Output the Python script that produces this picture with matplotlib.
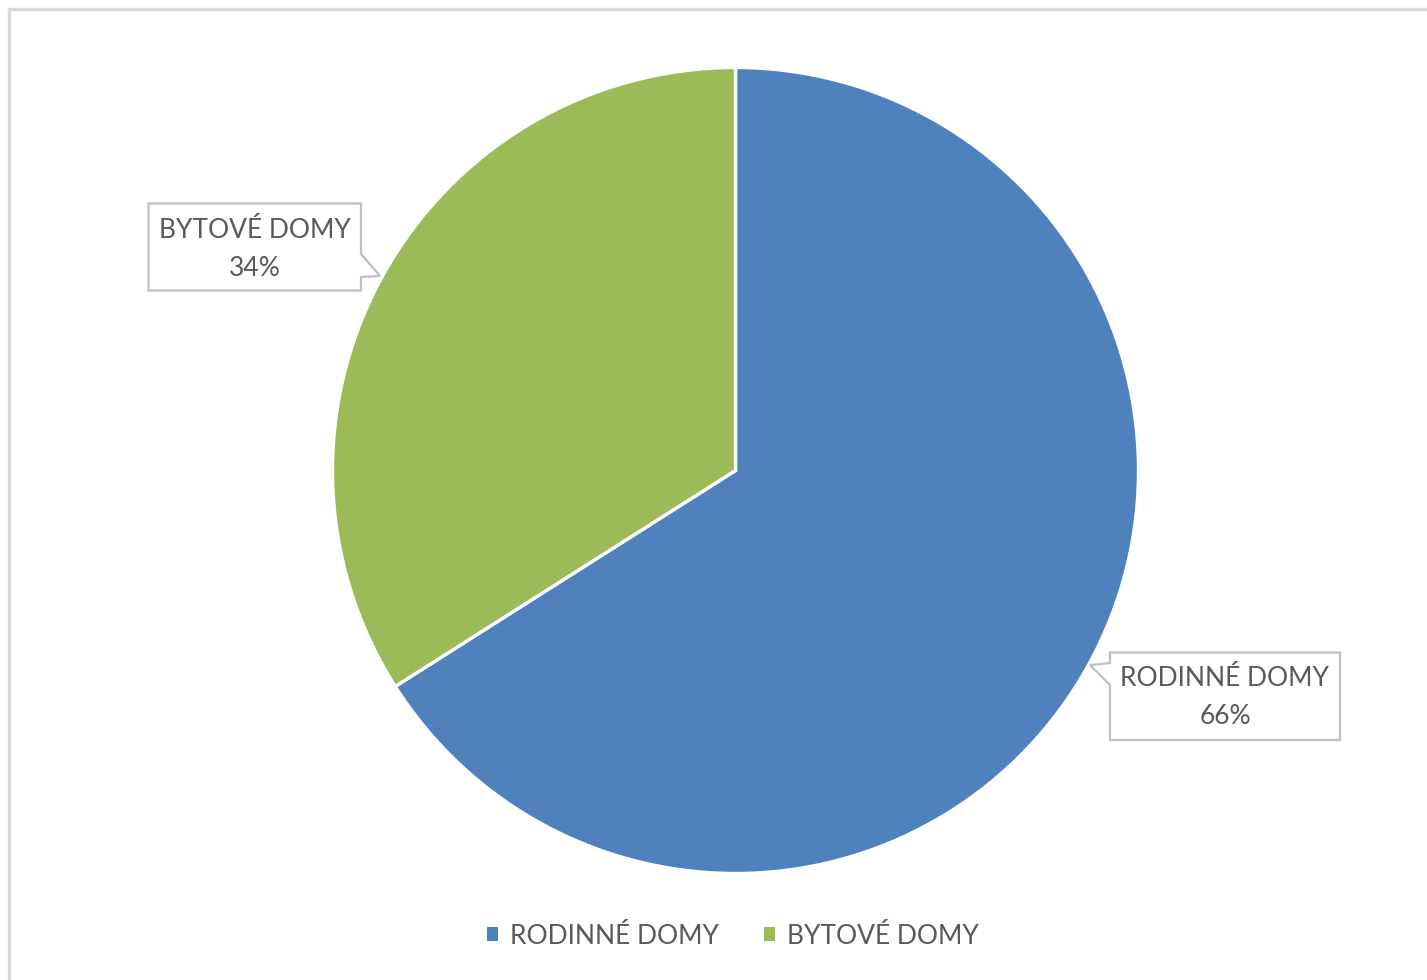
import matplotlib
matplotlib.use("Agg")
import matplotlib.pyplot as plt
from matplotlib.patches import Polygon
from matplotlib.lines import Line2D

categories = ["RODINNÉ DOMY", "BYTOVÉ DOMY"]
values = [66, 34]
colors = ["#4F81BD", "#9BBB59"]

W, H = 1427, 980
TXT = "#595959"
FONT = "Lato"

fig = plt.figure(figsize=(W / 100, H / 100), dpi=100)
fig.patch.set_facecolor("white")


def fx(x):
    return x / W


def fy(y):
    return 1 - y / H


# outer frame (top & left visible)
fig.add_artist(Line2D([fx(8.5), fx(W + 5)], [fy(9.5), fy(9.5)], color="#d9d9d9", lw=2.4))
fig.add_artist(Line2D([fx(8.5), fx(8.5)], [fy(9.5), fy(H + 5)], color="#d9d9d9", lw=2.4))

# pie axes
cx, cy, r = 735.5, 470.5, 403
ax = fig.add_axes([fx(cx - r), fy(cy + r), 2 * r / W, 2 * r / H])
wedges, _ = ax.pie(values, colors=colors, startangle=90, counterclock=False,
                   wedgeprops=dict(edgecolor="white", linewidth=2.4))
ax.set_xlim(-1, 1)
ax.set_ylim(-1, 1)
ax.set_aspect("auto")
ax.axis("off")

# callouts
callouts = {
    "BYTOVÉ DOMY": dict(box=[(148.5, 203.5), (361, 203.5), (361, 254), (380, 276), (361, 277),
                             (361, 290.5), (148.5, 290.5)], text=(255, 249)),
    "RODINNÉ DOMY": dict(box=[(1110, 652.5), (1340, 652.5), (1340, 740), (1110, 740), (1110, 685),
                              (1090, 665), (1110, 663)], text=(1225, 697)),
}
for cat, val in zip(categories, values):
    c = callouts[cat]
    pts = [(fx(x), fy(y)) for x, y in c["box"]]
    fig.add_artist(Polygon(pts, closed=True, facecolor="white", edgecolor="#bfbfbf",
                           lw=1.6, transform=fig.transFigure))
    tx, ty = c["text"]
    fig.text(fx(tx), fy(ty), f"{cat}\n{val}%", ha="center", va="center", color=TXT,
             fontsize=19, family=FONT, linespacing=1.65)

# legend
leg = fig.legend(wedges, categories, loc="center", bbox_to_anchor=(fx(733), fy(936)), ncol=2,
                 frameon=False, prop=dict(family=FONT, size=19), labelcolor=TXT,
                 handlelength=0.42, handleheight=0.42, handletextpad=0.45, columnspacing=1.7)
for h in leg.legend_handles:
    h.set_edgecolor("none")

fig.savefig("out.png", dpi=100, facecolor="white")
